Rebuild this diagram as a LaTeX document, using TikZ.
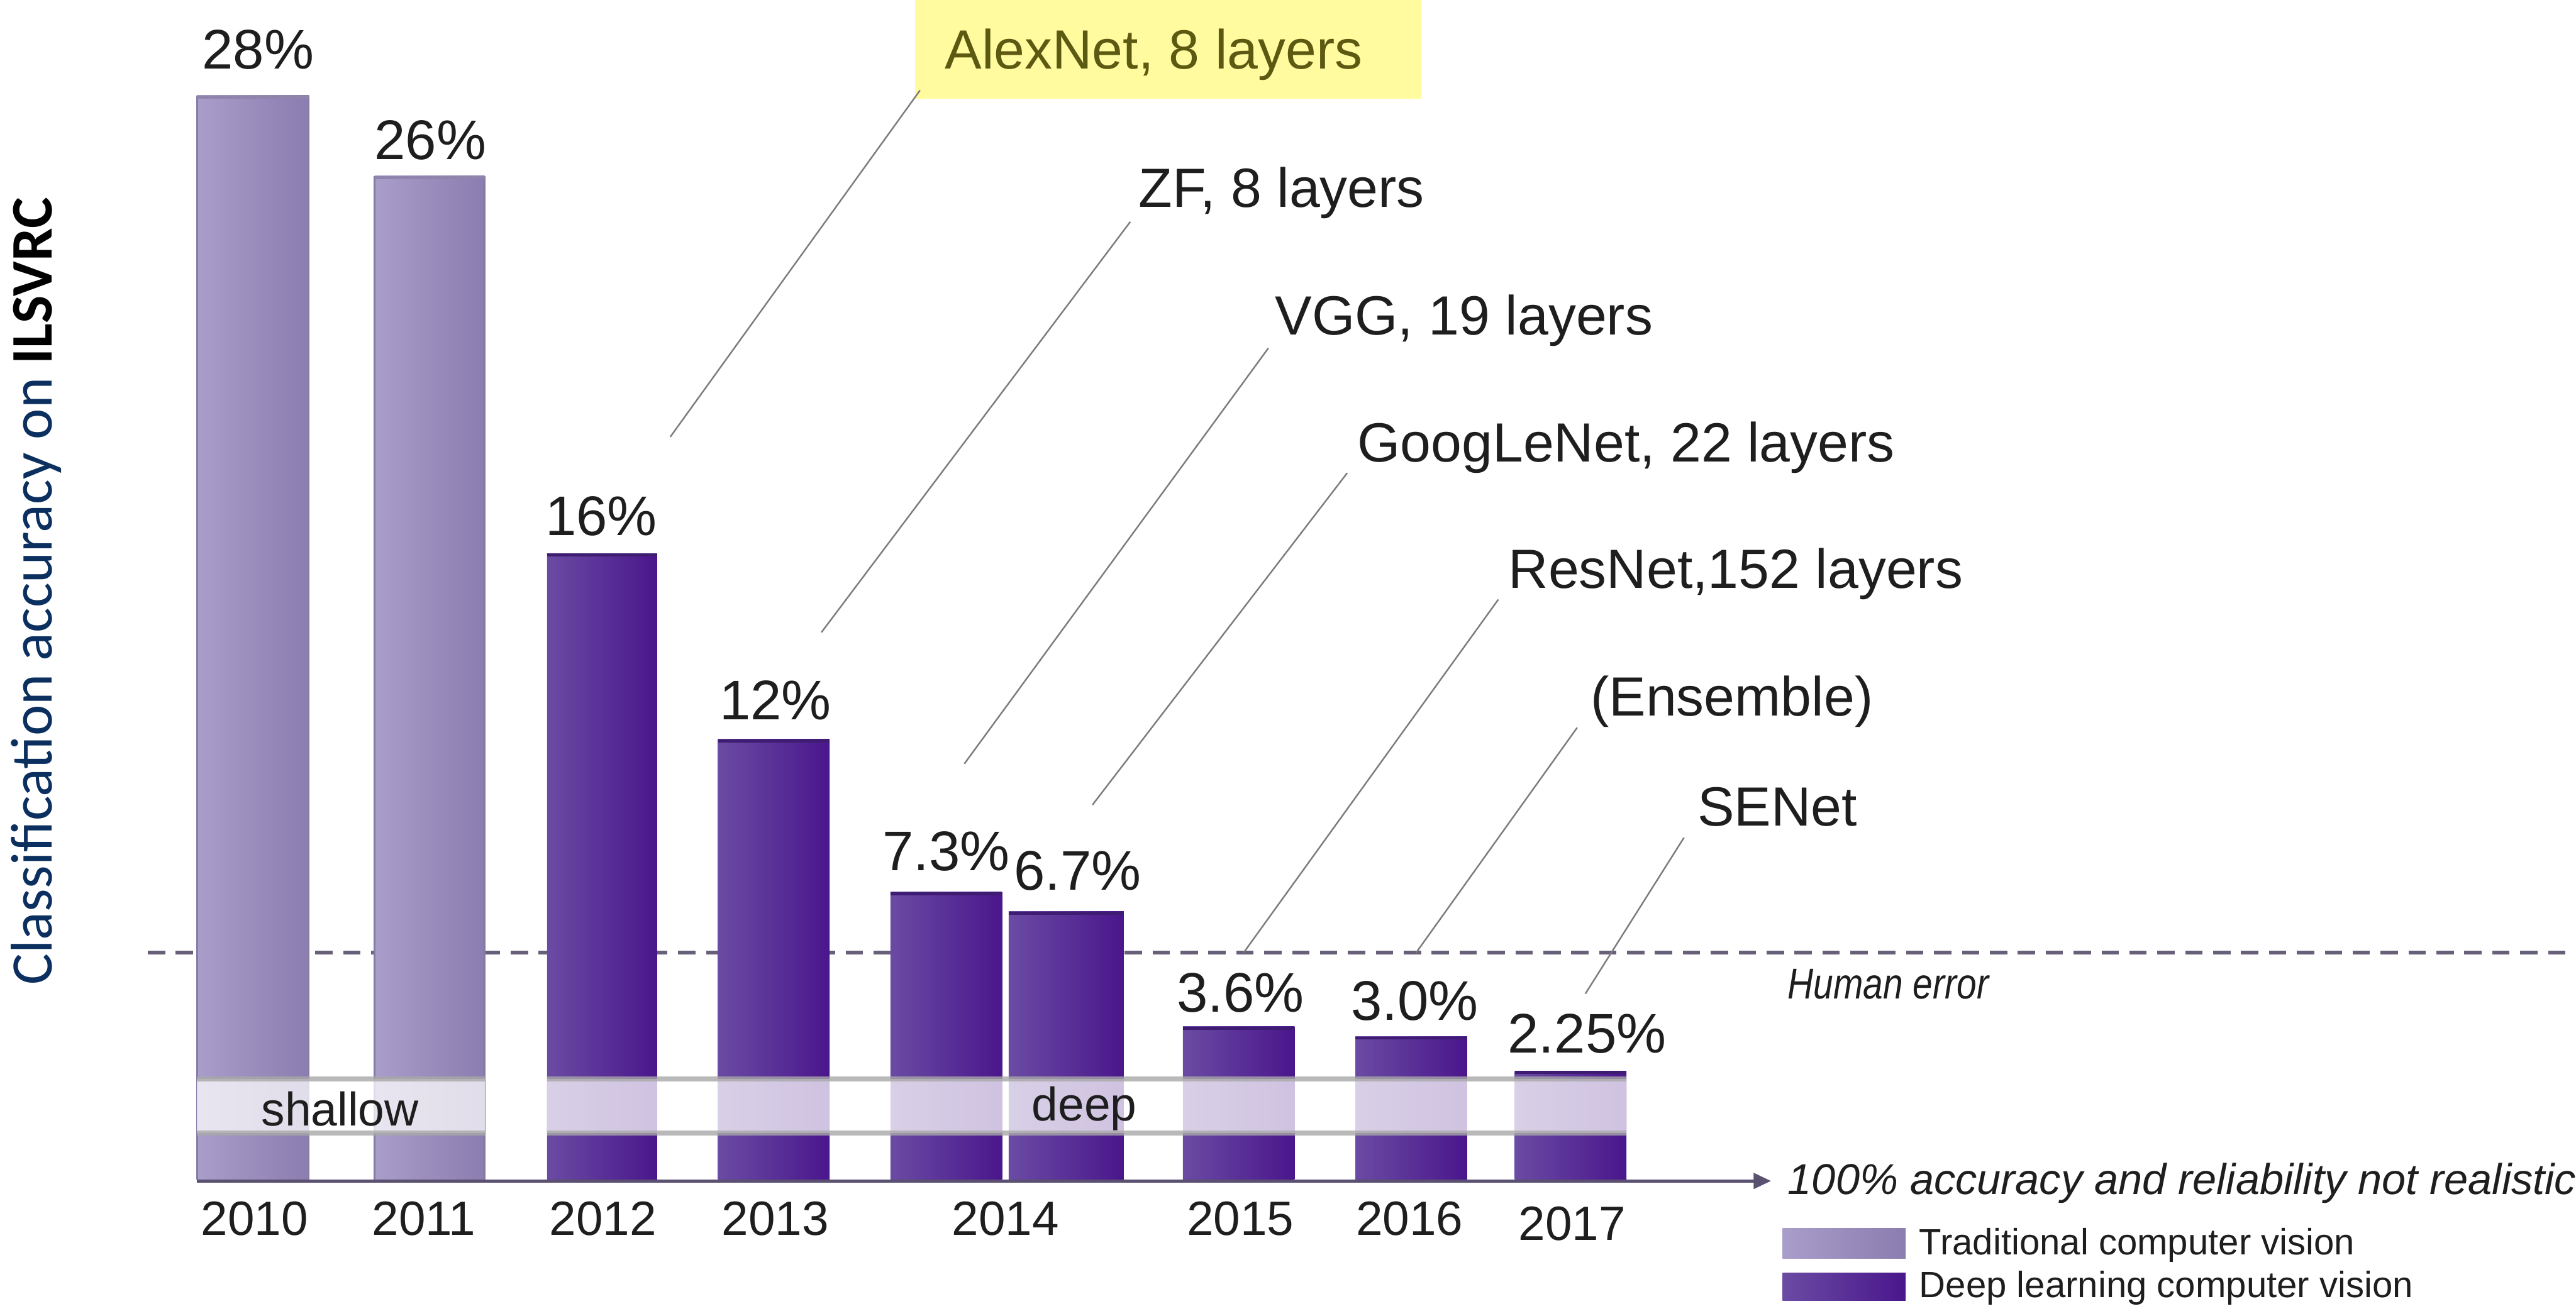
\documentclass[tikz,border=0pt]{standalone}
\usepackage{fontspec}
\usepackage{graphicx}
\setmainfont{Liberation Sans}
\newfontfamily\calibfont{Carlito}
\usetikzlibrary{arrows.meta}
\definecolor{trL}{HTML}{A99DCA}
\definecolor{trR}{HTML}{8B7DAF}
\definecolor{trTop}{HTML}{8E84AC}
\definecolor{trEdge}{HTML}{857AA5}
\definecolor{dpL}{HTML}{6A4BA3}
\definecolor{dpM}{HTML}{4E1E94}
\definecolor{dpR}{HTML}{4A168C}
\definecolor{dpTop}{HTML}{3E1C72}
\definecolor{txt}{HTML}{1E1E1E}
\definecolor{leader}{HTML}{7C7C7C}
\definecolor{axisc}{HTML}{5A5070}
\definecolor{dashc}{HTML}{686078}
\definecolor{bandline}{HTML}{A8A8A8}
\definecolor{hilite}{HTML}{FFFB9E}
\definecolor{hitext}{HTML}{5C5A12}
\definecolor{navy}{HTML}{0B2F5E}

\begin{document}
\begin{tikzpicture}[x=0.03cm,y=-0.03cm,
  tradbar/.style={left color=trL,right color=trR,draw=none},
  deepbar/.style={left color=dpL,middle color=dpM,right color=dpR,draw=none},
  pct/.style={font=\fontsize{29}{30}\selectfont,text=txt,inner sep=0,anchor=base},
  yr/.style={font=\fontsize{25}{26}\selectfont,text=txt,inner sep=0,anchor=base},
  model/.style={font=\fontsize{28.7}{30}\selectfont,text=txt,inner sep=0,anchor=base west},
  bandtext/.style={font=\fontsize{24.5}{26}\selectfont,text=txt,inner sep=0},
  note/.style={font=\itshape\fontsize{22.4}{24}\selectfont,text=txt,inner sep=0,anchor=base west},
  legtext/.style={font=\fontsize{19}{21}\selectfont,text=txt,inner sep=0,anchor=base west},
  leaderline/.style={draw=leader,line width=0.8pt},
  band/.style={fill=white,fill opacity=0.74,draw=none},
  bandedge/.style={draw=bandline,line width=2.6pt,draw opacity=0.8}]

\useasboundingbox (0,0) rectangle (1568,801.1);
\fill[white] (0,0) rectangle (1568,801.1);

% highlight behind the AlexNet label
\fill[hilite] (557,0) rectangle (865,60);

% human error level
\draw[dashc,line width=2pt,dash pattern=on 9pt off 5.5pt] (90,580) -- (1568,580);

% bars: traditional vision
\foreach \xl/\xr/\top in {120/188/58, 228/295/107}{
  \path[tradbar] (\xl,\top) rectangle (\xr,718);
  \draw[trEdge,line width=0.8pt] (\xl,718) -- (\xl,\top) (\xr,\top) -- (\xr,718);
  \draw[trTop,line width=1.6pt] (\xl,\top+1) -- (\xr,\top+1);
}
% bars: deep learning
\foreach \xl/\xr/\top in {333/400/337, 437/505/450, 542/610/543, 614/684/555,
                          720/788/625, 825/893/631, 922/990/652}{
  \path[deepbar] (\xl,\top) rectangle (\xr,718);
  \draw[dpTop,line width=1.6pt] (\xl,\top+1) -- (\xr,\top+1);
}

% shallow / deep bands
\path[band] (120,657) rectangle (295,690);
\path[band] (333,657) rectangle (990,690);
\draw[bandedge] (120,657) -- (295,657) (120,690) -- (295,690);
\draw[bandedge] (333,657) -- (990,657) (333,690) -- (990,690);
\node[bandtext] (shallow) at (207,675) {shallow};
\node[bandtext] (deep) at (660,675) {deep};

% time axis
\coordinate (axL) at (120,719);
\coordinate (axR) at (1078,719);
\draw[axisc,line width=1.6pt,-{Triangle[length=9pt,width=8pt]}] (axL) -- (axR);

% error rates
\node[pct] (p10) at (157,42) {28\%};
\node[pct] (p11) at (262,97) {26\%};
\node[pct] (p12) at (366,326) {16\%};
\node[pct] (p13) at (472,438) {12\%};
\node[pct] (p14a) at (576,530) {7.3\%};
\node[pct] (p14b) at (656,542) {6.7\%};
\node[pct] (p15) at (755,616) {3.6\%};
\node[pct] (p16) at (861,621) {3.0\%};
\node[pct] (p17) at (966,641) {2.25\%};

% years
\node[yr] (y10) at (155,752) {2010};
\node[yr] (y11) at (258,752) {2011};
\node[yr] (y12) at (367,752) {2012};
\node[yr] (y13) at (472,752) {2013};
\node[yr] (y14) at (612,752) {2014};
\node[yr] (y15) at (755,752) {2015};
\node[yr] (y16) at (858,752) {2016};
\node[yr] (y17) at (957,755) {2017};

% network names
\node[model,text=hitext] (alex) at (575,42) {AlexNet, 8 layers};
\node[model] (zf) at (693,126) {ZF, 8 layers};
\node[model] (vgg) at (776,204) {VGG, 19 layers};
\node[model] (goog) at (826,281) {GoogLeNet, 22 layers};
\node[model] (res) at (918,358) {ResNet,152 layers};
\node[model] (ens) at (968,436) {(Ensemble)};
\node[model] (se) at (1033,503) {SENet};

% leader lines
\coordinate (alexA) at (560,55);   \coordinate (alexB) at (408,266);
\coordinate (zfA) at (688,135);    \coordinate (zfB) at (500,385);
\coordinate (vggA) at (772,212);   \coordinate (vggB) at (587,465);
\coordinate (googA) at (820,288);  \coordinate (googB) at (665,490);
\coordinate (resA) at (912,365);   \coordinate (resB) at (757,580);
\coordinate (ensA) at (960,443);   \coordinate (ensB) at (862,580);
\coordinate (seA) at (1025,510);   \coordinate (seB) at (965,605);
\foreach \n in {alex,zf,vgg,goog,res,ens,se}
  \draw[leaderline] (\n A) -- (\n B);

% notes
\node[note] (human) at (1088,608) {\scalebox{0.83}[1]{Human error}};
\node[note] (limit) at (1088,727) {100\% accuracy and reliability not realistic};

% legend
\path[tradbar] (1085,748) rectangle (1160,766);
\path[deepbar] (1085,775) rectangle (1160,792);
\node[legtext] (legT) at (1168,764) {Traditional computer vision};
\node[legtext] (legD) at (1168,790) {Deep learning computer vision};

% vertical axis title
\node[rotate=90,inner sep=0,text=navy,font=\calibfont\fontsize{30.6}{32}\selectfont] (ytitle) at (22,360)
  {Classification accuracy on {\color{black}\bfseries ILSVRC}};
\end{tikzpicture}
\end{document}
